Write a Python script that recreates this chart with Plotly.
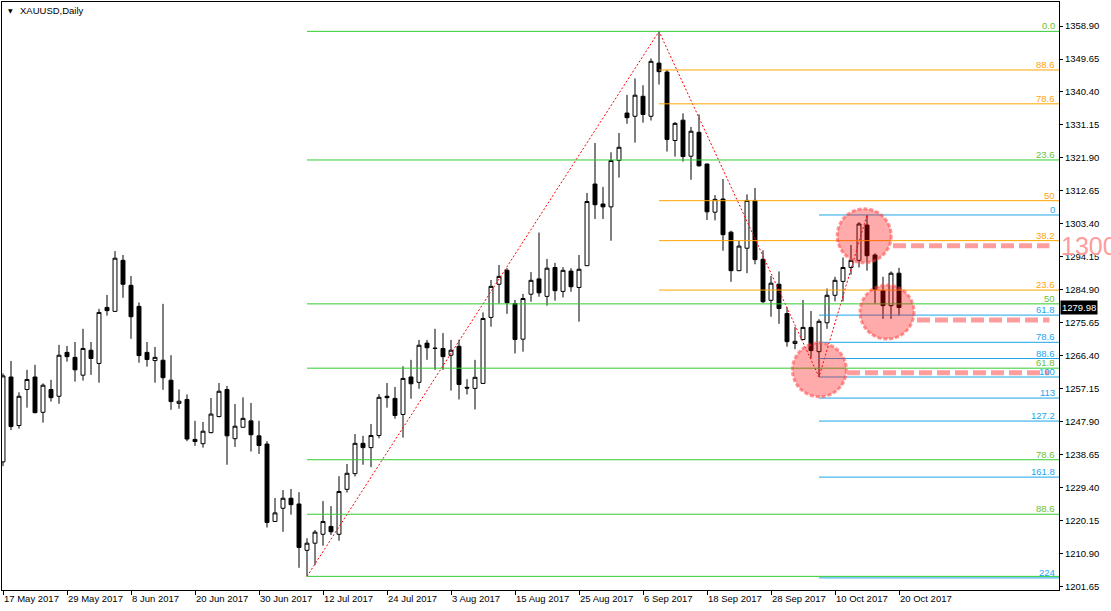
import pandas as pd
import plotly.graph_objects as go

# ---------------- data ----------------
start_date = "2017-05-17"
end_date = "2017-10-20"
dates = pd.bdate_range(start_date, end_date)

opens = [1236.7, 1260.5, 1246.9, 1257.0, 1260.5, 1250.6, 1257.0, 1255.1, 1267.4, 1266.0,
         1261.0, 1268.0, 1264.3, 1280.0, 1278.9, 1293.2, 1286.2, 1280.3, 1267.4, 1265.1,
         1265.2, 1259.6, 1253.1, 1254.2, 1243.0, 1241.8, 1244.9, 1249.4, 1257.0, 1243.2,
         1246.4, 1248.2, 1244.0, 1241.7, 1220.0, 1223.7, 1226.5, 1224.9, 1211.9, 1213.9,
         1216.4, 1218.6, 1216.4, 1229.0, 1233.4, 1241.9, 1240.7, 1244.1, 1255.1, 1254.5,
         1250.0, 1260.5, 1259.0, 1270.0, 1268.6, 1268.5, 1266.6, 1269.1, 1257.6, 1257.3,
         1258.7, 1277.2, 1286.5, 1290.4, 1281.1, 1271.1, 1283.7, 1288.0, 1283.1, 1291.2,
         1284.5, 1290.2, 1285.6, 1291.7, 1314.6, 1309.0, 1308.2, 1321.2, 1334.5, 1333.6,
         1339.2, 1333.6, 1348.5, 1346.0, 1326.8, 1332.5, 1322.4, 1329.1, 1320.2, 1306.7,
         1310.4, 1301.1, 1290.3, 1296.6, 1310.0, 1293.5, 1282.0, 1286.5, 1278.3, 1269.9,
         1271.0, 1274.4, 1267.6, 1275.7, 1283.4, 1287.3, 1291.2, 1293.2, 1303.1, 1294.7,
         1284.7, 1280.5, 1289.6]
highs = [1261.5, 1265.0, 1256.2, 1262.5, 1263.9, 1258.7, 1259.7, 1269.5, 1269.2, 1270.3,
         1274.0, 1270.3, 1279.6, 1283.5, 1295.8, 1294.7, 1288.8, 1281.4, 1270.3, 1268.9,
         1281.0, 1266.6, 1257.0, 1255.6, 1248.2, 1247.9, 1254.6, 1258.8, 1258.0, 1252.9,
         1254.8, 1253.2, 1248.2, 1242.5, 1226.6, 1228.8, 1229.1, 1228.2, 1215.3, 1217.6,
         1225.7, 1224.3, 1232.7, 1236.1, 1244.5, 1244.0, 1247.3, 1255.7, 1258.8, 1257.7,
         1263.5, 1265.3, 1270.9, 1270.9, 1274.0, 1272.8, 1270.9, 1270.9, 1259.9, 1265.3,
         1278.6, 1287.7, 1291.9, 1291.0, 1282.1, 1283.8, 1289.9, 1301.0, 1293.6, 1292.5,
         1291.3, 1291.0, 1294.7, 1312.1, 1326.1, 1313.8, 1323.5, 1328.9, 1339.6, 1344.2,
         1342.3, 1349.8, 1357.4, 1346.6, 1332.0, 1334.4, 1330.6, 1334.1, 1320.3, 1311.5,
         1316.0, 1301.5, 1298.6, 1311.7, 1313.5, 1296.0, 1288.8, 1290.1, 1280.0, 1274.5,
         1282.1, 1279.0, 1276.7, 1285.3, 1288.6, 1294.0, 1297.5, 1303.9, 1305.9, 1295.2,
         1288.6, 1290.1, 1291.1]
lows = [1235.5, 1245.6, 1246.0, 1251.9, 1250.3, 1247.7, 1253.6, 1253.0, 1264.8, 1259.2,
        1259.5, 1261.1, 1258.9, 1277.7, 1278.8, 1282.7, 1271.2, 1264.5, 1263.4, 1258.9,
        1256.9, 1251.3, 1251.6, 1242.5, 1241.2, 1240.7, 1244.7, 1249.2, 1235.9, 1240.9,
        1246.3, 1239.6, 1238.9, 1218.3, 1219.9, 1217.1, 1221.9, 1207.0, 1204.6, 1207.8,
        1213.2, 1216.2, 1214.6, 1228.1, 1232.6, 1235.9, 1235.2, 1243.3, 1251.9, 1248.8,
        1243.5, 1254.4, 1257.2, 1265.3, 1262.5, 1262.5, 1256.7, 1254.2, 1255.6, 1251.4,
        1258.6, 1274.6, 1281.1, 1278.2, 1267.1, 1267.6, 1281.6, 1283.0, 1280.5, 1281.9,
        1282.8, 1284.4, 1276.0, 1291.6, 1304.8, 1304.8, 1298.7, 1316.4, 1331.5, 1326.2,
        1331.8, 1332.4, 1342.5, 1323.7, 1322.3, 1320.9, 1315.8, 1319.5, 1304.5, 1304.4,
        1295.9, 1287.2, 1290.2, 1289.6, 1292.1, 1281.3, 1277.4, 1275.4, 1269.0, 1268.3,
        1270.9, 1265.7, 1260.5, 1274.0, 1281.7, 1281.7, 1289.2, 1291.2, 1290.3, 1281.1,
        1276.8, 1276.8, 1277.7]
closes = [1260.8, 1246.6, 1255.1, 1259.8, 1250.5, 1258.2, 1254.7, 1266.6, 1266.2, 1262.5,
          1268.5, 1265.7, 1278.6, 1279.1, 1293.8, 1286.5, 1277.4, 1266.5, 1265.4, 1266.0,
          1260.3, 1253.6, 1253.7, 1243.1, 1242.4, 1245.3, 1250.1, 1256.5, 1244.0, 1246.7,
          1248.9, 1244.3, 1241.3, 1219.7, 1222.4, 1226.5, 1224.7, 1212.7, 1213.9, 1217.0,
          1220.0, 1217.1, 1228.4, 1233.5, 1241.9, 1240.7, 1244.1, 1254.8, 1254.7, 1249.7,
          1260.1, 1258.6, 1269.4, 1268.7, 1268.5, 1266.2, 1268.0, 1258.4, 1257.4, 1260.4,
          1276.9, 1285.9, 1288.7, 1281.3, 1271.0, 1282.5, 1287.6, 1284.1, 1291.0, 1284.7,
          1290.4, 1285.8, 1290.7, 1309.7, 1308.8, 1308.2, 1321.2, 1324.9, 1333.2, 1339.5,
          1334.1, 1349.0, 1346.1, 1327.1, 1331.6, 1322.3, 1329.4, 1319.7, 1306.8, 1310.3,
          1300.4, 1290.3, 1297.2, 1310.0, 1293.4, 1281.6, 1286.8, 1279.7, 1270.4, 1270.5,
          1274.4, 1267.9, 1276.1, 1283.4, 1287.6, 1291.2, 1293.2, 1303.4, 1294.5, 1285.1,
          1280.5, 1289.6, 1279.98]

y_tick_labels = ["1201.65", "1210.90", "1220.15", "1229.40", "1238.65", "1247.90",
                 "1257.15", "1266.40", "1275.65", "1284.90", "1294.15", "1303.40",
                 "1312.65", "1321.90", "1331.15", "1340.40", "1349.65", "1358.90"]

# Fibonacci objects
green_fib_start = "2017-07-10"
green_fib_high, green_fib_low = 1357.4, 1204.6          # 0 at high, 100 at low
green_levels = [0, 23.6, 50, 61.8, 78.6, 88.6, 100]
green_labels = ["0.0", "23.6", "50", "61.8", "78.6", "88.6", ""]

orange_fib_start = "2017-09-08"
orange_fib_low, orange_fib_high = 1262.46, 1357.4       # 0 at low, 100 at high
orange_levels = [23.6, 38.2, 50, 78.6, 88.6]
orange_labels = ["23.6", "38.2", "50", "78.6", "88.6"]

cyan_fib_start = "2017-10-06"
cyan_fib_high, cyan_fib_low = 1305.92, 1260.5           # 0 at high, 100 at low
cyan_levels = [0, 61.8, 78.6, 88.6, 100, 113, 127.2, 161.8, 224]
cyan_labels = ["0", "61.8", "78.6", "88.6", "100", "113", "127.2", "161.8", "224"]

zigzag_dates = ["2017-07-10", "2017-09-08", "2017-10-06", "2017-10-16"]
zigzag_prices = [1204.6, 1357.4, 1260.5, 1305.9]

circle_centers = [(107.65, 1300.1), (110.5, 1278.7), (102.05, 1262.5)]
dash_levels = [1297.3, 1276.5, 1261.7]
last_price = 1279.98

# ---------------- figure ----------------
xi = list(range(len(dates)))
pos = {d.strftime("%Y-%m-%d"): i for i, d in enumerate(dates)}
X_MIN, X_MAX = -0.125, 132.0
Y_MIN, Y_MAX = 1200.78, 1365.63

fig = go.Figure()
fig.add_trace(go.Candlestick(
    x=xi, open=opens, high=highs, low=lows, close=closes,
    increasing=dict(line=dict(color="black", width=1), fillcolor="white"),
    decreasing=dict(line=dict(color="black", width=1), fillcolor="black"),
    whiskerwidth=0, showlegend=False, hoverinfo="skip"))

fig.add_trace(go.Scatter(
    x=[pos[d] for d in zigzag_dates], y=zigzag_prices, mode="lines",
    line=dict(color="#FF0000", width=1, dash="2px,2px"),
    showlegend=False, hoverinfo="skip"))

shapes = []
annotations = []

def fib(start, levels, labels, price_fn, line_color, text_color):
    x0 = pos[start]
    for lv, lb in zip(levels, labels):
        p = price_fn(lv)
        shapes.append(dict(type="line", xref="x", yref="y", x0=x0, x1=X_MAX,
                           y0=p, y1=p, line=dict(color=line_color, width=1)))
        if lb:
            annotations.append(dict(text=lb, xref="paper", yref="y", x=1, y=p,
                                    xanchor="right", yanchor="bottom", xshift=-2, yshift=-2,
                                    showarrow=False,
                                    font=dict(size=9.5, color=text_color,
                                              family="Liberation Sans")))

fib(green_fib_start, green_levels, green_labels,
    lambda lv: green_fib_high - lv / 100 * (green_fib_high - green_fib_low),
    "#32CD32", "#6CC02E")
fib(orange_fib_start, orange_levels, orange_labels,
    lambda lv: orange_fib_low + lv / 100 * (orange_fib_high - orange_fib_low),
    "#FFA500", "#FFA500")
fib(cyan_fib_start, cyan_levels, cyan_labels,
    lambda lv: cyan_fib_high - lv / 100 * (cyan_fib_high - cyan_fib_low),
    "#1EA5E8", "#1EA5F0")

for cx, cy in circle_centers:
    shapes.append(dict(type="circle", xref="x", yref="y", xsizemode="pixel",
                       ysizemode="pixel", xanchor=cx, yanchor=cy,
                       x0=-27, x1=27, y0=-27, y1=27,
                       fillcolor="rgba(255,0,0,0.33)",
                       line=dict(color="rgba(255,70,70,0.55)", width=3, dash="4px,2px")))

dash_starts = [111.25, 114.25, 105.5]
for x0, p in zip(dash_starts, dash_levels):
    shapes.append(dict(type="line", xref="x", yref="y", x0=x0, x1=130.8, y0=p, y1=p,
                       line=dict(color="#FF9C9C", width=5, dash="13px,5px")))

annotations.append(dict(text="1300", xref="paper", yref="y", x=1, y=dash_levels[0],
                        xanchor="left", yanchor="middle", xshift=0, showarrow=False,
                        font=dict(size=25, color="#FF9C9C", family="Liberation Sans")))
annotations.append(dict(text=f"{last_price:.2f}", xref="paper", yref="y", x=1, y=last_price,
                        xanchor="left", yanchor="middle", xshift=1, showarrow=False,
                        bgcolor="black", borderpad=1,
                        font=dict(size=9.5, color="white", family="Liberation Sans")))
annotations.append(dict(text="XAUUSD,Daily", xref="paper", yref="paper", x=0.0151, y=0.9847,
                        xanchor="left", yanchor="middle", showarrow=False,
                        font=dict(size=9.5, color="black", family="Liberation Sans")))
annotations.append(dict(text="▼", xref="paper", yref="paper", x=0.0076, y=0.9847,
                        xanchor="center", yanchor="middle", showarrow=False,
                        font=dict(size=6, color="black", family="DejaVu Sans")))

tick_idx = xi[::8]
tick_text = [f"{d.day} {d.strftime('%b %Y')}" for d in dates[::8]]

fig.update_layout(
    width=1111, height=611,
    margin=dict(l=2, r=52, t=2, b=21, autoexpand=False),
    paper_bgcolor="white", plot_bgcolor="white",
    font=dict(family="Liberation Sans", size=9.5, color="black"),
    shapes=shapes, annotations=annotations,
    showlegend=False, hovermode=False,
    xaxis=dict(range=[X_MIN, X_MAX], showgrid=False, zeroline=False,
               tickvals=tick_idx, ticktext=tick_text, ticks="outside", ticklen=4,
               tickcolor="black", ticklabelposition="outside right",
               showline=True, mirror=True, linecolor="black", linewidth=1,
               rangeslider=dict(visible=False), fixedrange=True, automargin=False,
               tickfont=dict(size=9.5, color="black")),
    yaxis=dict(range=[Y_MIN, Y_MAX], side="right", showgrid=False, zeroline=False,
               tickvals=[float(t) for t in y_tick_labels], ticktext=y_tick_labels,
               ticks="outside", ticklen=3, tickcolor="black",
               showline=True, mirror=True, linecolor="black", linewidth=1,
               fixedrange=True, automargin=False, tickfont=dict(size=9.5, color="black")),
)

fig.write_html("out.html", config={"displayModeBar": False})

# remove the browser's default page margin so the figure sits at the window origin
with open("out.html", encoding="utf-8") as f:
    html = f.read()
html = html.replace("<head>", "<head><style>html,body{margin:0;padding:0;overflow:hidden;}</style>", 1)
with open("out.html", "w", encoding="utf-8") as f:
    f.write(html)
